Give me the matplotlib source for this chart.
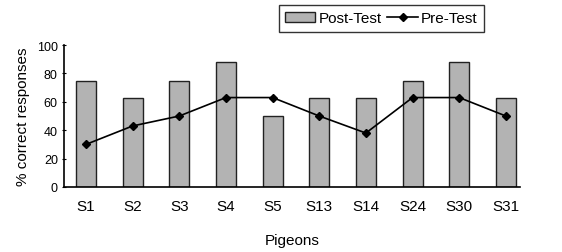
import matplotlib
matplotlib.use("Agg")
import matplotlib.pyplot as plt
import numpy as np

plt.rcParams["font.family"] = ["Liberation Sans", "DejaVu Sans"]

pigeons = ["S1", "S2", "S3", "S4", "S5", "S13", "S14", "S24", "S30", "S31"]
post_test = [75, 63, 75, 88, 50, 63, 63, 75, 88, 63]
pre_test = [30, 43, 50, 63, 63, 50, 38, 63, 63, 50]

fig = plt.figure(figsize=(5.62, 2.53), dpi=100)
ax = fig.add_axes([0.114, 0.257, 0.811, 0.561])

x = np.arange(len(pigeons))
bars = ax.bar(x, post_test, width=0.43, color="#b3b3b3", edgecolor="#222222",
              linewidth=1.0, label="Post-Test")
line, = ax.plot(x, pre_test, "k-D", markersize=4, linewidth=1.2,
                label="Pre-Test")

ax.set_xlim(-0.47, 9.3)
ax.set_ylim(0, 100)
ax.set_yticks([0, 20, 40, 60, 80, 100])
ax.set_xticks(x)
ax.set_xticklabels(pigeons, fontsize=11)
ax.tick_params(axis="x", length=0, pad=9)
ax.tick_params(axis="y", labelsize=9, length=3, direction="inout", pad=3)
for s in ["top", "right"]:
    ax.spines[s].set_visible(False)
ax.spines["left"].set_linewidth(1.2)
ax.spines["bottom"].set_linewidth(1.2)

ax.set_xlabel("Pigeons", fontsize=11, labelpad=14)
ax.set_ylabel("% correct responses", fontsize=11, labelpad=5)

leg = ax.legend([bars, line], ["Post-Test", "Pre-Test"], loc="upper right",
                bbox_to_anchor=(0.921, 1.28), ncol=2,
                fontsize=11, frameon=True, fancybox=False, edgecolor="black",
                handlelength=2.0, handletextpad=0.2, columnspacing=0.4,
                borderpad=0.4, borderaxespad=0)
leg.get_frame().set_linewidth(1.0)

plt.savefig("out.png", dpi=100)
